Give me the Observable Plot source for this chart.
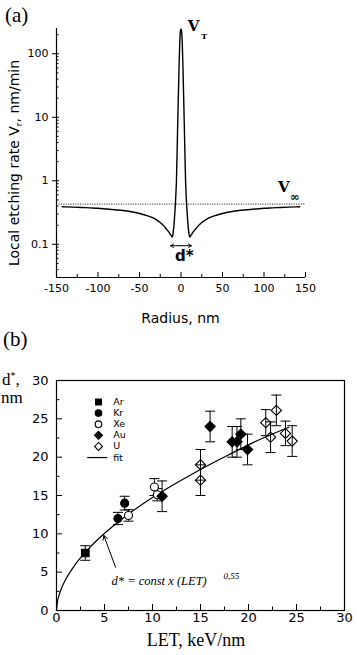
<!DOCTYPE html>
<html><head><meta charset="utf-8">
<script src="https://cdn.jsdelivr.net/npm/d3@7"></script>
<script src="https://cdn.jsdelivr.net/npm/@observablehq/plot@0.6"></script>
<style>
body{margin:0;background:#fff;}
#wrap{position:relative;width:357px;height:655px;overflow:hidden;background:#fff}
.abs{position:absolute;white-space:nowrap;line-height:1;color:#000}
.serif{font-family:"Liberation Serif","Times New Roman",serif}
.sans{font-family:"DejaVu Sans",sans-serif}
</style></head><body>
<div id="wrap">
  <div id="pa" class="abs" style="left:0;top:0"></div>
  <div id="pb" class="abs" style="left:0;top:330px"></div>
  <div class="abs serif" style="left:5px;top:5px;font-size:21px">(a)</div>
  <div class="abs sans" style="left:15px;top:163px;font-size:14px;transform:translate(-50%,-50%) rotate(-90deg)">Local etching rate V<sub style="font-size:9px;vertical-align:-3px">r</sub>, nm/min</div>
  <div class="abs sans" style="left:180.5px;top:310.5px;font-size:14px;transform:translateX(-50%)">Radius, nm</div>
  <div class="abs serif" style="left:3px;top:329px;font-size:21px">(b)</div>
  <div class="abs serif" style="left:2px;top:370.7px;font-size:17px">d<sup style="font-size:10px;vertical-align:6px">*</sup>,</div>
  <div class="abs serif" style="left:1px;top:388.5px;font-size:17px">nm</div>
  <div class="abs serif" style="left:196px;top:631px;font-size:18px;transform:translateX(-50%)">LET, keV/nm</div>
</div>
<script>
// ---------- Panel (a) data ----------
const radius = [-143,-130,-120,-110,-100,-90,-80,-70,-60,-50,-40,-35,-30,-25,-20,-17,-15,-13,-11.5,-10.5,-9.5,-8.5,-7.5,-6.5,-5.5,-4.5,-3.5,-2.5,-1.5,-0.8,0,
                0.8,1.5,2.5,3.5,4.5,5.5,6.5,7.5,8.5,9.5,10.5,11.5,13,15,17,20,25,30,35,40,50,60,70,80,90,100,110,120,130,143];
const rate = [0.39,0.385,0.38,0.375,0.37,0.36,0.35,0.34,0.325,0.305,0.28,0.265,0.245,0.22,0.19,0.17,0.158,0.145,0.135,0.13,0.15,0.2,0.3,0.5,1.0,3.7,14,52,150,220,245,
              220,150,52,14,3.7,1.0,0.5,0.3,0.2,0.15,0.13,0.135,0.145,0.158,0.17,0.19,0.22,0.245,0.265,0.28,0.305,0.325,0.34,0.35,0.36,0.37,0.375,0.38,0.385,0.39];
const vInfinity = 0.43;
const xTicksA = [-150,-100,-50,0,50,100,150];
const xMinorA = [-125,-75,-25,25,75,125];
const yTicksA = [0.1,1,10,100];
const yMinorA = [0.03,0.04,0.05,0.06,0.07,0.08,0.09,0.2,0.3,0.4,0.5,0.6,0.7,0.8,0.9,2,3,4,5,6,7,8,9,20,30,40,50,60,70,80,90,200];

// ---------- Panel (b) data ----------
const elements = ["Ar","Kr","Xe","Au","U"];
const arLET = [3.0],  arD = [7.5],  arErr = [0.95];
const krLET = [6.4, 7.1], krD = [12.0, 14.0], krErr = [0.8, 0.9];
const xeLET = [7.5, 10.2, 10.5], xeD = [12.4, 16.1, 15.1], xeErr = [0.75, 1.1, 0.8];
const auLET = [11.0, 16.0, 18.3, 18.8, 19.2, 19.9], auD = [14.9, 24.0, 22.0, 22.0, 23.0, 21.0], auErr = [2, 2, 2, 2, 2, 2];
const uLET = [15.0, 15.0, 21.8, 22.3, 22.9, 23.85, 24.55], uD = [19.0, 17.0, 24.5, 22.6, 26.1, 23.1, 22.1], uErr = [2, 2, 1.7, 2, 2, 1.6, 2];
const fitLET = [0, 0.1, 0.25, 0.5, 1, 2, 3, 4, 6, 8, 10, 12, 15, 18, 21, 24.2];
const fitD   = [0, 1.17, 1.94, 2.83, 4.15, 6.08, 7.59, 8.9, 11.12, 13.03, 14.73, 16.27, 18.4, 20.35, 22.2, 23.9];
const xTicksB = [0,5,10,15,20,25,30], xMinorB = [2.5,7.5,12.5,17.5,22.5,27.5];
const yTicksB = [0,5,10,15,20,25,30], yMinorB = [2.5,7.5,12.5,17.5,22.5,27.5];

// ---------- Panel (a) ----------
const curve = radius.map((r, i) => ({r, v: rate[i]}));
const xDomA = [-150, 150], yDomA = [0.03, 250];
const SANS = "DejaVu Sans";
const plotA = Plot.plot({
  width: 357, height: 330, marginLeft: 56, marginRight: 52, marginTop: 28, marginBottom: 53,
  style: {fontFamily: SANS, fontSize: "11px", background: "transparent", overflow: "visible"},
  x: {domain: xDomA, label: null},
  y: {type: "log", domain: yDomA, label: null},
  marks: [
    Plot.ruleY([vInfinity], {stroke: "black", strokeWidth: 0.8, strokeDasharray: "1.2,1.2"}),
    Plot.line(curve, {x: "r", y: "v", stroke: "black", strokeWidth: 1.4, curve: "monotone-x"}),
    Plot.ruleX([xDomA[0]], {stroke: "black", strokeWidth: 1.2}),
    Plot.ruleY([yDomA[0]], {stroke: "black", strokeWidth: 1.2}),
    Plot.axisX({ticks: xTicksA, tickSize: -5, fill: "none", label: null}),
    Plot.axisX({ticks: xMinorA, tickSize: -3, fill: "none", label: null}),
    Plot.axisX({ticks: xTicksA, tickSize: 0, tickPadding: 7, tickFormat: d => String(d), label: null, fontSize: 11, fontFamily: SANS}),
    Plot.axisY({ticks: yTicksA, tickSize: 4, fill: "none", label: null}),
    Plot.axisY({ticks: yTicksA, tickSize: -3, fill: "none", label: null}),
    Plot.axisY({ticks: yMinorA, tickSize: -2.5, fill: "none", label: null}),
    Plot.axisY({ticks: yTicksA, tickSize: 0, tickPadding: 8, tickFormat: d => String(d), label: null, fontSize: 11, fontFamily: SANS}),
    // d* double arrow
    Plot.arrow([{x1: 0, x2: -12.5, y: 0.095}, {x1: 0, x2: 12.5, y: 0.095}], {x1: "x1", x2: "x2", y1: "y", y2: "y", stroke: "black", strokeWidth: 1, headLength: 5}),
    Plot.text(["d*"], {x: 4, y: 0.064, text: d => d, fontFamily: SANS, fontWeight: "bold", fontSize: 15}),
    Plot.text(["V"], {x: 8, y: 275, text: d => d, textAnchor: "start", fontFamily: "DejaVu Serif", fontWeight: "bold", fontSize: 15}),
    Plot.text(["T"], {x: 24.5, y: 190, text: d => d, textAnchor: "start", fontFamily: "DejaVu Serif", fontWeight: "bold", fontSize: 8}),
    Plot.text(["V"], {x: 117, y: 0.8, text: d => d, textAnchor: "start", fontFamily: "DejaVu Serif", fontWeight: "bold", fontSize: 15}),
    Plot.text(["∞"], {x: 131, y: 0.56, text: d => d, textAnchor: "start", fontFamily: "DejaVu Serif", fontWeight: "bold", fontSize: 12})
  ]
});
document.getElementById("pa").appendChild(plotA);

// ---------- Panel (b) ----------
const mk = (LET, D, E) => LET.map((x, i) => ({let: x, d: D[i], e: E[i]}));
const series = {
  Ar: {pts: mk(arLET, arD, arErr), symbol: "square",  fill: "black", r: 4.3},
  Kr: {pts: mk(krLET, krD, krErr), symbol: "circle",  fill: "black", r: 4},
  Xe: {pts: mk(xeLET, xeD, xeErr), symbol: "circle",  fill: "white", r: 4},
  Au: {pts: mk(auLET, auD, auErr), symbol: "diamond2", fill: "black", r: 4.6},
  U:  {pts: mk(uLET, uD, uErr),    symbol: "diamond2", fill: "none",  r: 4.6}
};
const allPts = elements.flatMap(k => series[k].pts);
const capSymbol = {draw(ctx, size) { const w = Math.sqrt(size / Math.PI); ctx.moveTo(-w, 0); ctx.lineTo(w, 0); }};
const fit = fitLET.map((x, i) => ({let: x, d: fitD[i]}));

// legend layout (in data units of the panel)
const legX = 4.375, legTextX = 5.9, legY0 = 27.2, legStep = 1.45;
const legendMarks = elements.flatMap((k, i) => [
  Plot.dot([0], {x: legX, y: legY0 - i * legStep, symbol: series[k].symbol, r: series[k].symbol === "diamond2" ? 3.6 : 3.3,
                 fill: series[k].fill === "black" ? "black" : "white", stroke: "black", strokeWidth: 1.1}),
  Plot.text([k], {x: legTextX, y: legY0 - i * legStep, text: d => d, textAnchor: "start", fontFamily: SANS, fontSize: 9.5})
]);
const fitRow = legY0 - elements.length * legStep;

const plotB = Plot.plot({
  width: 357, height: 325, marginLeft: 56, marginRight: 13, marginTop: 50, marginBottom: 45,
  style: {fontFamily: SANS, fontSize: "13px", background: "transparent", overflow: "visible"},
  x: {domain: [0, 30], label: null},
  y: {domain: [0, 30], label: null},
  marks: [
    Plot.frame({stroke: "black", strokeWidth: 1.2}),
    Plot.axisX({ticks: xTicksB, tickSize: -6, fill: "none", label: null}),
    Plot.axisX({ticks: xMinorB, tickSize: -3.5, fill: "none", label: null}),
    Plot.axisX({ticks: xTicksB, tickSize: 0, tickPadding: 2, label: null, fontSize: 13, fontFamily: SANS}),
    Plot.axisY({ticks: yTicksB, tickSize: -6, fill: "none", label: null}),
    Plot.axisY({ticks: yMinorB, tickSize: -3.5, fill: "none", label: null}),
    Plot.axisY({ticks: yTicksB, tickSize: 0, tickPadding: 8, label: null, fontSize: 13, fontFamily: SANS}),
    Plot.line(fit, {x: "let", y: "d", stroke: "black", strokeWidth: 1.2, curve: "monotone-x"}),
    Plot.ruleX(allPts, {x: "let", y1: d => d.d - d.e, y2: d => d.d + d.e, stroke: "black", strokeWidth: 1}),
    Plot.dot(allPts, {x: "let", y: d => d.d + d.e, symbol: capSymbol, r: 5, fill: "none", stroke: "black", strokeWidth: 1}),
    Plot.dot(allPts, {x: "let", y: d => d.d - d.e, symbol: capSymbol, r: 5, fill: "none", stroke: "black", strokeWidth: 1}),
    ...elements.map(k => Plot.dot(series[k].pts, {x: "let", y: "d", symbol: series[k].symbol, r: series[k].r,
        fill: series[k].fill, stroke: "black", strokeWidth: 1.1})),
    ...legendMarks,
    Plot.link([0], {x1: 3.2, x2: 5.3, y1: fitRow, y2: fitRow, stroke: "black", strokeWidth: 1.2}),
    Plot.text(["fit"], {x: legTextX, y: fitRow, text: d => d, textAnchor: "start", fontFamily: SANS, fontSize: 9.5}),
    // formula annotation
    Plot.arrow([0], {x1: 6.15, y1: 5.65, x2: 4.93, y2: 9.78, stroke: "black", strokeWidth: 1, headLength: 7}),
    Plot.text(["d* = const x (LET)"], {x: 5.73, y: 3.9, text: d => d, textAnchor: "start", fontFamily: "Liberation Serif", fontStyle: "italic", fontSize: 12.5}),
    Plot.text(["0,55"], {x: 17.4, y: 4.45, text: d => d, textAnchor: "start", fontFamily: "Liberation Serif", fontStyle: "italic", fontSize: 9})
  ]
});
document.getElementById("pb").appendChild(plotB);
</script>
</body></html>
